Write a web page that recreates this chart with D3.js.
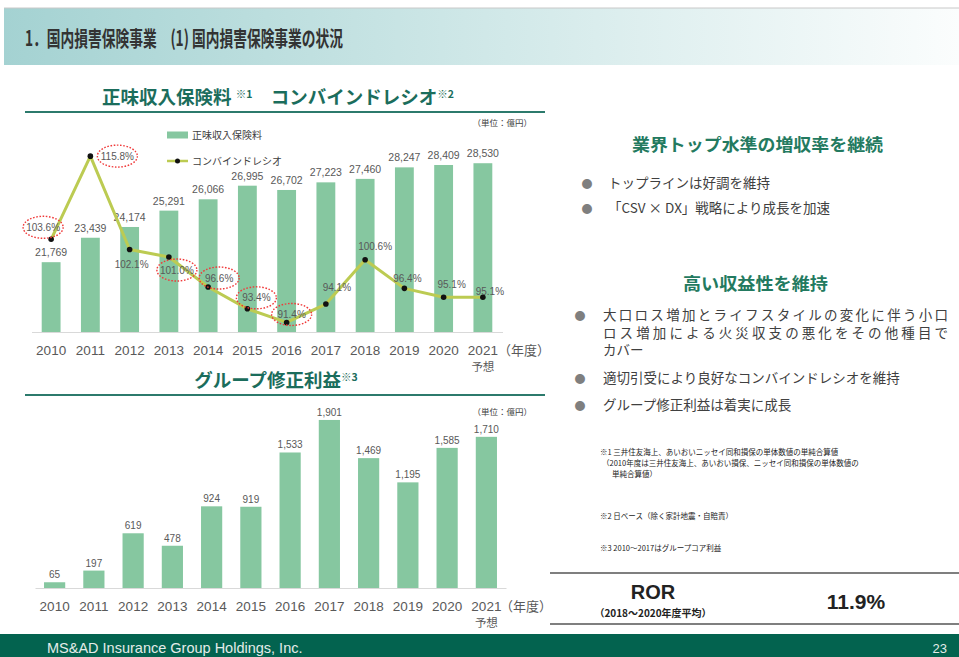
<!DOCTYPE html>
<html>
<head>
<meta charset="utf-8">
<script src="https://cdn.jsdelivr.net/npm/d3@7"></script>
<style>
body { margin: 0; background: #fff; }
svg { display: block; font-family: "Noto Sans CJK JP", "Noto Sans", sans-serif; }
</style>
</head>
<body>
<script>
// data
let years = ["2010", "2011", "2012", "2013", "2014", "2015", "2016", "2017", "2018", "2019", "2020", "2021"]
let premiums = [21769, 23439, 24174, 25291, 26066, 26995, 26702, 27223, 27460, 28247, 28409, 28530]
let combinedRatio = [103.6, 115.8, 102.1, 101.0, 96.6, 93.4, 91.4, 94.1, 100.6, 96.4, 95.1, 95.1]
let adjustedProfit = [65, 197, 619, 478, 924, 919, 1533, 1901, 1469, 1195, 1585, 1710]
let circledYears = ["2010", "2011", "2013", "2014", "2015", "2016"]
let forecastYear = "2021"

let w = 959
let h = 657
let green = "#86c7a0"
let lineColor = "#bccb52"
let teal = "#1b6d5c"
let gray = "#595959"
let numFont = "'Liberation Sans', Arial, sans-serif"

let svg = d3.select("body").append("svg")
	.attr("width", w)
	.attr("height", h)

// header band
let defs = svg.append("defs")
let grad = defs.append("linearGradient").attr("id", "hdr")
grad.append("stop").attr("offset", "0%").attr("stop-color", "#a4d2d2")
grad.append("stop").attr("offset", "55%").attr("stop-color", "#d4eaea")
grad.append("stop").attr("offset", "100%").attr("stop-color", "#fbfdfd")

svg.append("rect").attr("x", 4).attr("y", 8).attr("width", w - 4).attr("height", 57).attr("fill", "url(#hdr)")
svg.append("line").attr("x1", 4).attr("x2", w).attr("y1", 8).attr("y2", 8).attr("stroke", "#c8c8c8")
svg.append("text")
	.attr("x", 25).attr("y", 46)
	.attr("font-size", 21).attr("font-weight", "bold").attr("fill", "#333")
	.attr("textLength", 318).attr("lengthAdjust", "spacingAndGlyphs")
	.text("1．国内損害保険事業　(1) 国内損害保険事業の状況")

// footer band
svg.append("rect").attr("x", 0).attr("y", 634).attr("width", w).attr("height", h - 634).attr("fill", "#03634f")
svg.append("text").attr("x", 47).attr("y", 653)
	.attr("font-family", numFont).attr("font-size", 14.5).attr("fill", "#e4ece9")
	.text("MS&AD Insurance Group Holdings, Inc.")
svg.append("text").attr("x", 947).attr("y", 653).attr("text-anchor", "end")
	.attr("font-family", numFont).attr("font-size", 13).attr("fill", "#e4ece9")
	.text("23")

// section titles
let sectionTitle = function(cx, y, parts, lineY) {
	let t = svg.append("text")
		.attr("x", cx).attr("y", y)
		.attr("text-anchor", "middle")
		.attr("font-weight", "bold").attr("fill", teal)
	parts.forEach(p => {
		t.append("tspan")
			.attr("font-size", p.sup ? 10.5 : 18.5)
			.attr("dy", p.sup ? -6 : (p.after ? 6 : 0))
			.text(p.t)
	})
	svg.append("line").attr("x1", 25).attr("x2", 545).attr("y1", lineY).attr("y2", lineY)
		.attr("stroke", "#2c7a6c").attr("stroke-width", 2)
}
sectionTitle(278, 104, [
	{ t: "正味収入保険料 " }, { t: "※1", sup: true },
	{ t: "　コンバインドレシオ", after: true }, { t: "※2", sup: true }
], 112)
sectionTitle(276, 387, [{ t: "グループ修正利益" }, { t: "※3", sup: true }], 395)

// ---------- top chart ----------
let xTop = d3.scaleBand()
	.domain(years)
	.range([31.5, 502.5])
	.paddingInner(0.52)
	.paddingOuter(0.26)

let yPrem = d3.scaleLinear().domain([17000, 30000]).range([332, 141.7])
let yRatio = d3.scaleLinear().domain([90, 120]).range([332, 127.5])
let cxTop = d => xTop(d) + xTop.bandwidth() / 2

let topG = svg.append("g")

topG.selectAll("rect.bar")
	.data(premiums)
	.enter()
	.append("rect")
	.attr("class", "bar")
	.attr("x", (d, i) => xTop(years[i]))
	.attr("y", d => yPrem(d))
	.attr("width", xTop.bandwidth())
	.attr("height", d => yPrem(17000) - yPrem(d))
	.attr("fill", green)

topG.selectAll("text.val")
	.data(premiums)
	.enter()
	.append("text")
	.attr("class", "val")
	.attr("x", (d, i) => cxTop(years[i]))
	.attr("y", d => yPrem(d) - 6)
	.attr("text-anchor", "middle")
	.attr("font-family", numFont).attr("font-size", 10.5).attr("fill", gray)
	.text(d => d3.format(",")(d))

let xAxisTop = topG.append("g")
	.attr("transform", "translate(0,332)")
	.call(d3.axisBottom(xTop).tickSize(0).tickPadding(13))
xAxisTop.select(".domain").attr("stroke", "#d9d9d9").attr("stroke-width", 1.2)
xAxisTop.selectAll("text").attr("font-family", numFont).attr("font-size", 13.5).attr("fill", gray)

// combined ratio line
let ratioLine = d3.line()
	.x((d, i) => cxTop(years[i]))
	.y(d => yRatio(d))

topG.append("path")
	.datum(combinedRatio)
	.attr("d", ratioLine)
	.attr("fill", "none")
	.attr("stroke", lineColor)
	.attr("stroke-width", 3)
	.attr("stroke-linejoin", "round")

topG.selectAll("circle.pt")
	.data(combinedRatio)
	.enter()
	.append("circle")
	.attr("class", "pt")
	.attr("cx", (d, i) => cxTop(years[i]))
	.attr("cy", d => yRatio(d))
	.attr("r", 2.8)
	.attr("fill", "#111")

// label offsets relative to each point (layout only)
let ratioLabelOffset = [[-8, -12], [27, 0], [2, 15], [8, 13], [11, -9], [9, -11],
	[5, -8], [11, -17], [10, -13], [3, -10], [8, -13], [7, -6]]

topG.selectAll("text.ratio")
	.data(combinedRatio)
	.enter()
	.append("text")
	.attr("class", "ratio")
	.attr("x", (d, i) => cxTop(years[i]) + ratioLabelOffset[i][0])
	.attr("y", (d, i) => yRatio(d) + ratioLabelOffset[i][1] + 3.5)
	.attr("text-anchor", "middle")
	.attr("font-family", numFont).attr("font-size", 10).attr("fill", gray)
	.text(d => d.toFixed(1) + "%")

topG.selectAll("ellipse.mark")
	.data(combinedRatio.map((d, i) => ({ d, i })).filter(o => circledYears.includes(years[o.i])))
	.enter()
	.append("ellipse")
	.attr("class", "mark")
	.attr("cx", o => cxTop(years[o.i]) + ratioLabelOffset[o.i][0])
	.attr("cy", o => yRatio(o.d) + ratioLabelOffset[o.i][1])
	.attr("rx", 20)
	.attr("ry", 11)
	.attr("fill", "none")
	.attr("stroke", "#f03a3a")
	.attr("stroke-width", 1.4)
	.attr("stroke-dasharray", "1.6,1.6")

// legend
topG.append("rect").attr("x", 167).attr("y", 131.5).attr("width", 21).attr("height", 7).attr("fill", green)
topG.append("text").attr("x", 192).attr("y", 139).attr("font-size", 10).attr("fill", "#404040").text("正味収入保険料")
topG.append("line").attr("x1", 167).attr("x2", 188).attr("y1", 161).attr("y2", 161)
	.attr("stroke", lineColor).attr("stroke-width", 2.5)
topG.append("circle").attr("cx", 177.5).attr("cy", 161).attr("r", 2.5).attr("fill", "#111")
topG.append("text").attr("x", 192).attr("y", 165).attr("font-size", 10).attr("fill", "#404040").text("コンバインドレシオ")

topG.append("text").attr("x", 532).attr("y", 126).attr("text-anchor", "end")
	.attr("font-size", 8.5).attr("fill", "#404040").text("（単位：億円）")

topG.append("text").attr("x", 498).attr("y", 355).attr("font-size", 13).attr("fill", gray).text("（年度）")
topG.append("text").attr("x", cxTop(forecastYear)).attr("y", 371).attr("text-anchor", "middle")
	.attr("font-size", 11.5).attr("fill", gray).text("予想")

// ---------- bottom chart ----------
let xBot = d3.scaleBand()
	.domain(years)
	.range([35, 506])
	.paddingInner(0.46)
	.paddingOuter(0.23)

let yProf = d3.scaleLinear().domain([0, 2000]).range([588, 411.2])
let cxBot = d => xBot(d) + xBot.bandwidth() / 2

let bot = svg.append("g")

bot.selectAll("rect.bar")
	.data(adjustedProfit)
	.enter()
	.append("rect")
	.attr("class", "bar")
	.attr("x", (d, i) => xBot(years[i]))
	.attr("y", d => yProf(d))
	.attr("width", xBot.bandwidth())
	.attr("height", d => yProf(0) - yProf(d))
	.attr("fill", green)

bot.selectAll("text.val")
	.data(adjustedProfit)
	.enter()
	.append("text")
	.attr("class", "val")
	.attr("x", (d, i) => cxBot(years[i]))
	.attr("y", d => yProf(d) - 4)
	.attr("text-anchor", "middle")
	.attr("font-family", numFont).attr("font-size", 10).attr("fill", gray)
	.text(d => d3.format(",")(d))

let xAxisBot = bot.append("g")
	.attr("transform", "translate(0,588)")
	.call(d3.axisBottom(xBot).tickSize(0).tickPadding(13))
xAxisBot.select(".domain").attr("stroke", "#d9d9d9").attr("stroke-width", 1.2)
xAxisBot.selectAll("text").attr("font-family", numFont).attr("font-size", 13.5).attr("fill", gray)

bot.append("text").attr("x", 532).attr("y", 415).attr("text-anchor", "end")
	.attr("font-size", 8.5).attr("fill", "#404040").text("（単位：億円）")
bot.append("text").attr("x", 500).attr("y", 611).attr("font-size", 13).attr("fill", gray).text("（年度）")
bot.append("text").attr("x", cxBot(forecastYear)).attr("y", 627).attr("text-anchor", "middle")
	.attr("font-size", 11.5).attr("fill", gray).text("予想")

// ---------- right column ----------
let right = svg.append("g")

let heading = (x, y, t, len) => right.append("text")
	.attr("x", x).attr("y", y)
	.attr("font-size", 17).attr("font-weight", "bold").attr("fill", "#237a60")
	.attr("textLength", len).attr("lengthAdjust", "spacingAndGlyphs")
	.text(t)

let bullet = (bx, tx, y, lines, len) => {
	right.append("text").attr("x", bx).attr("y", y + 5).attr("text-anchor", "middle")
		.attr("font-size", 11).attr("fill", "#7f7f7f").text("●")
	lines.forEach((l, i) => {
		let t = right.append("text").attr("x", tx).attr("y", y + 5 + i * 17.5)
			.attr("font-size", 13.5).attr("fill", "#404040").text(l)
		if (len && i < lines.length - 1) t.attr("textLength", len).attr("lengthAdjust", "spacing")
	})
}

heading(632, 151, "業界トップ水準の増収率を継続", 251)
bullet(587, 608, 183, ["トップラインは好調を維持"])
bullet(587, 608, 208, ["「CSV × DX」戦略により成長を加速"])

heading(683, 290, "高い収益性を維持", 145)
bullet(580, 603, 315, ["大口ロス増加とライフスタイルの変化に伴う小口",
	"ロス増加による火災収支の悪化をその他種目で", "カバー"], 345)
bullet(580, 603, 378, ["適切引受により良好なコンバインドレシオを維持"])
bullet(580, 603, 405, ["グループ修正利益は着実に成長"])

// footnotes
let notes = [
	[600, 455, "※1 三井住友海上、あいおいニッセイ同和損保の単体数値の単純合算値"],
	[602, 466, "（2010年度は三井住友海上、あいおい損保、ニッセイ同和損保の単体数値の"],
	[612, 477, "単純合算値）"],
	[600, 519, "※2 日ベース（除く家計地震・自賠責）"],
	[600, 551, "※3 2010～2017はグループコア利益"]
]
right.selectAll("text.note")
	.data(notes)
	.enter()
	.append("text")
	.attr("class", "note")
	.attr("x", d => d[0]).attr("y", d => d[1])
	.attr("font-size", 7.5).attr("fill", "#222")
	.text(d => d[2])

// ROR box
right.append("line").attr("x1", 550).attr("x2", w).attr("y1", 573).attr("y2", 573).attr("stroke", "#555").attr("stroke-width", 1.5)
right.append("line").attr("x1", 550).attr("x2", w).attr("y1", 624).attr("y2", 624).attr("stroke", "#555").attr("stroke-width", 1.5)
right.append("text").attr("x", 653).attr("y", 599).attr("text-anchor", "middle")
	.attr("font-family", numFont).attr("font-size", 20).attr("font-weight", "bold").attr("fill", "#222").text("ROR")
right.append("text").attr("x", 653).attr("y", 617).attr("text-anchor", "middle")
	.attr("font-size", 10).attr("font-weight", "bold").attr("fill", "#222").text("（2018～2020年度平均）")
right.append("text").attr("x", 856).attr("y", 609).attr("text-anchor", "middle")
	.attr("font-family", numFont).attr("font-size", 21).attr("font-weight", "bold").attr("fill", "#222").text("11.9%")
</script>
</body>
</html>
